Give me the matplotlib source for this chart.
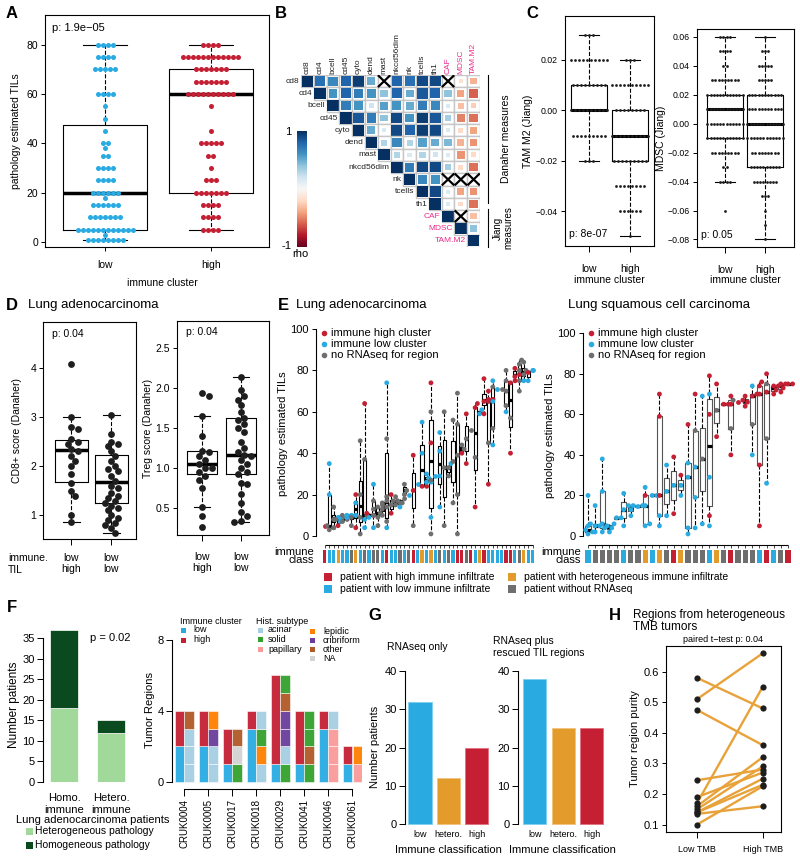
import numpy as np
import matplotlib
matplotlib.use('Agg')
import matplotlib.pyplot as plt
from matplotlib.patches import Rectangle
from matplotlib.lines import Line2D
from matplotlib.colors import Normalize
from matplotlib.colorbar import ColorbarBase

plt.rcParams['font.family'] = ['Liberation Sans', 'DejaVu Sans']
plt.rcParams['font.size'] = 7.5
plt.rcParams['axes.linewidth'] = 0.8
for a in ('xtick', 'ytick'):
    plt.rcParams[a + '.major.width'] = 0.7
    plt.rcParams[a + '.major.size'] = 3
    plt.rcParams[a + '.major.pad'] = 2
    plt.rcParams[a + '.labelsize'] = 7.5

W, H = 800, 860
BLUE = '#29abe2'
RED = '#c41f33'
ORANGE = '#e39b2b'
GRAY = '#6e6e6e'
MAGENTA = '#ec2c8c'
DOT = '#1e1e1e'
PT_COL = {'h': RED, 'l': BLUE, 'n': GRAY}
CLS_COL = {'r': RED, 'b': BLUE, 'o': ORANGE, 'g': GRAY}

# ---------------- A: TILs by immune cluster ----------------
a_low_vals = [80, 75, 70, 60, 55, 50, 45, 40, 38, 35, 30, 25, 20, 18, 15, 10, 5, 3, 1]
a_low_counts = [4, 4, 5, 4, 1, 1, 1, 2, 1, 2, 4, 4, 6, 1, 6, 7, 12, 1, 8]
a_high_vals = [80, 75, 70, 65, 60, 55, 45, 40, 35, 30, 25, 20, 15, 10, 5]
a_high_counts = [4, 12, 7, 7, 10, 1, 1, 5, 2, 1, 3, 7, 4, 4, 4]
a_boxes = [(5, 20, 47.5, 1, 80), (20, 60, 70, 5, 80)]   # q1, median, q3, low, high

# ---------------- B: correlation (upper triangle rows, nan = not significant) ----------------
b_labels = ['cd8', 'cd4', 'bcell', 'cd45', 'cyto', 'dend', 'mast', 'nkcd56dim', 'nk',
            'tcells', 'th1', 'CAF', 'MDSC', 'TAM.M2']
nan = np.nan
b_rho = [
    [1, .75, .65, .8, .95, .5, nan, .8, .75, .9, .9, nan, -.15, -.35],
    [1, .6, .8, .7, .6, .4, .8, .5, .85, .8, .4, -.4, -.6],
    [1, .7, .6, .2, .55, .6, .5, .7, .65, .15, -.3, -.25],
    [1, .85, .7, .4, .9, .6, .95, .85, .35, -.5, -.55],
    [1, .5, .15, .9, .8, .95, .9, .15, -.2, -.4],
    [1, .3, .65, .3, .55, .5, .45, -.35, -.45],
    [1, .3, .15, .3, .2, .15, -.45, -.2],
    [1, .7, .9, .9, .35, -.2, -.55],
    [1, .65, .6, nan, nan, nan],
    [1, .9, .15, -.4, -.45],
    [1, .15, -.2, -.55],
    [1, nan, -.3],
    [1, .4],
    [1],
]

# ---------------- C: Jiang scores ----------------
c_tam_vals = [0.03, 0.02, 0.01, 0.0, -0.01, -0.02, -0.03, -0.04, -0.05]
c_tam_low = [3, 10, 9, 10, 9, 3, 0, 0, 0]
c_tam_high = [0, 3, 10, 8, 10, 9, 8, 6, 1]
c_tam_boxes = [(0, 0, 0.01, -0.02, 0.03), (-0.02, -0.01, 0, -0.05, 0.02)]
c_mdsc_vals = [0.06, 0.05, 0.04, 0.03, 0.02, 0.01, 0.0, -0.01, -0.02, -0.03, -0.04,
               -0.05, -0.06, -0.07, -0.08]
c_mdsc_low = [4, 4, 2, 9, 12, 12, 12, 12, 9, 2, 4, 0, 1, 0, 0]
c_mdsc_high = [1, 3, 5, 5, 11, 11, 12, 12, 9, 10, 8, 3, 1, 1, 1]
c_mdsc_boxes = [(-0.01, 0.01, 0.02, -0.04, 0.06), (-0.03, 0.0, 0.02, -0.08, 0.06)]

# ---------------- D: Danaher scores ----------------
d_cd8_hi = [4.07, 3.0, 2.8, 2.75, 2.55, 2.5, 2.45, 2.35, 2.3, 2.2, 2.1, 2.0, 1.85, 1.65,
            1.5, 1.4, 1.0, 0.86]
d_cd8_lo = [3.03, 2.65, 2.5, 2.45, 2.4, 2.3, 2.2, 2.1, 2.0, 1.95, 1.9, 1.8, 1.7, 1.6, 1.55,
            1.45, 1.4, 1.35, 1.3, 1.25, 1.2, 1.15, 1.1, 1.0, 0.95, 0.9, 0.85, 0.8, 0.75, 0.65]
d_cd8_boxes = [(1.68, 2.33, 2.53, 0.86, 3.0), (1.25, 1.68, 2.23, 0.65, 3.03)]
d_treg_hi = [1.93, 1.9, 1.65, 1.4, 1.22, 1.2, 1.15, 1.1, 1.05, 1.0, 1.0, 0.95, 0.9, 0.85,
             0.75, 0.52, 0.4, 0.27]
d_treg_lo = [2.14, 1.97, 1.9, 1.85, 1.78, 1.7, 1.63, 1.6, 1.55, 1.5, 1.45, 1.32, 1.25, 1.2,
             1.17, 1.15, 1.1, 1.05, 1.0, 0.95, 0.93, 0.82, 0.8, 0.68, 0.57, 0.45, 0.4, 0.35, 0.33]
d_treg_boxes = [(0.93, 1.05, 1.22, 0.52, 1.65), (0.93, 1.17, 1.63, 0.33, 2.14)]

# ---------------- E: regions per patient (h = immune high, l = low, n = no RNAseq) ----------------
luad_vals = [[5], [3, 4, 5, 20, 35], [4, 8, 9, 14], [5, 7, 8, 9], [7, 8, 9], [9, 10, 10],
             [5, 9, 10, 10], [4, 10, 16, 20], [1, 9, 20, 46], [4, 8, 10, 37, 64], [9, 10, 11],
             [4, 10, 13, 17, 25], [5, 9, 11, 14, 15], [10, 13, 16, 17], [4, 7, 14, 19, 47, 74],
             [11, 15, 20], [15, 16, 17, 19], [14, 16, 17, 18], [20, 22, 25], [20], [5, 22, 39],
             [25], [24, 24, 40, 55], [26, 26, 28, 30], [1, 9, 27, 45, 60, 74], [29],
             [14, 29, 41, 50], [5, 33, 60], [29, 33, 35], [16, 36, 56], [1, 20, 39, 54, 69],
             [40, 42, 44], [35, 47, 59], [51], [14, 38, 62, 64], [59, 61], [59, 65, 66, 76],
             [25, 45, 65, 66, 70], [44, 52, 65, 72, 75], [71], [71], [60, 63, 70, 75, 80],
             [40, 57, 74, 75], [77, 78, 81], [70, 75, 80, 83, 85], [75, 78, 80, 84],
             [75, 79, 80], [80]]
luad_pts = ['h', 'nnnll', 'nnln', 'hlnn', 'nnl', 'lln', 'nnnl', 'hllh', 'nnnn', 'llnnh', 'lhh',
            'lnnnl', 'nnnnn', 'nnnn', 'lnnnnl', 'hnh', 'nnnn', 'lnnn', 'nnn', 'l', 'nhh', 'l',
            'hhll', 'llll', 'nlnhnh', 'l', 'llll', 'nnn', 'nnl', 'nnn', 'nnnnn', 'hnn', 'hnh',
            'n', 'hnhh', 'll', 'hhhh', 'hnhhh', 'lnlnl', 'l', 'n', 'lnnnn', 'hnhh', 'hhh',
            'nnnnn', 'lnnn', 'lhl', 'l']
luad_class = 'rbbobbgobgbggbrbbgbgrbobobgbgbrrgrborbbbbrrbgobb'

lusc_vals = [[1, 2, 3, 5, 20], [2, 5, 5, 6, 15], [2, 4, 6, 22, 38], [2, 4, 5, 6], [9, 9],
             [5, 13, 21], [10, 13, 15, 15], [14.5, 15], [5, 6, 15, 20, 24], [20, 20],
             [5, 10, 20, 59, 70], [10, 22, 35], [11, 25, 39], [20, 25, 30], [1, 4, 29, 36, 55],
             [4, 19, 34, 52, 70], [6, 38, 69], [5, 10, 29, 60, 70, 79], [49, 62, 75], [65, 65],
             [40, 53, 65, 67, 69], [66], [64, 66, 67, 69], [40, 55, 69, 70, 74],
             [5, 35, 70, 74, 76], [26, 48, 71, 75, 80], [70, 72, 74, 74], [71, 73, 75, 75],
             [75, 75]]
lusc_pts = ['lllll', 'lllll', 'lllll', 'llll', 'll', 'lll', 'llll', 'll', 'lllhl', 'll',
            'llhhh', 'lll', 'hlh', 'llh', 'llllh', 'lllnh', 'lnl', 'lhlhlh', 'hnh', 'hh',
            'hnhnh', 'h', 'hhhh', 'lnhhl', 'hhhhh', 'lnhnh', 'hhhh', 'hhhh', 'hh']
lusc_class = 'bggggbggobogrogggbogrgggbrbgr'

# ---------------- F ----------------
f_groups = ['Homo.\nimmune', 'Hetero.\nimmune']
f_hetero_path = [18, 12]
f_homo_path = [19, 3]
f_patients = ['CRUK0004', 'CRUK0005', 'CRUK0017', 'CRUK0018', 'CRUK0029', 'CRUK0041',
              'CRUK0046', 'CRUK0061']
f_low = [2, 2, 1, 3, 1, 1, 3, 1]
f_high = [2, 2, 2, 1, 5, 3, 1, 1]
f_hist = ['aaao', 'aacl', 'sno', 'alsa', 'saccos', 'soss', 'pppa', 'pl']   # bottom to top
HIST_COL = {'a': '#a6cee3', 's': '#33a02c', 'p': '#fb9a99', 'l': '#ff7f00',
            'c': '#6a3d9a', 'o': '#b15928', 'n': '#d3d3d3'}

# ---------------- G ----------------
g_classes = ['low', 'hetero.', 'high']
g_rnaseq = [32, 12, 20]
g_rescued = [38, 25, 25]

# ---------------- H ----------------
h_low = [0.58, 0.51, 0.475, 0.245, 0.19, 0.17, 0.16, 0.15, 0.14, 0.14, 0.135, 0.10]
h_high = [0.48, 0.66, 0.36, 0.28, 0.27, 0.55, 0.32, 0.29, 0.25, 0.23, 0.16, 0.225]


fig = plt.figure(figsize=(8, 8.6), dpi=100)


def px_axes(l, t, r, b):
    return fig.add_axes([l / W, 1 - b / H, (r - l) / W, (b - t) / H])


def ftext(x, y, s, **kw):
    return fig.text(x / W, 1 - y / H, s, **kw)


def fsquare(x, y, size, color):
    fig.add_artist(Rectangle((x / W, 1 - (y + size / 2) / H), size / W, size / H,
                             transform=fig.transFigure, fc=color, ec='none'))


def draw_boxes(ax, boxes, widths, capw, lw=0.8, medlw=2.5, caps=True):
    stats = [dict(q1=q1, med=m, q3=q3, whislo=lo, whishi=hi, fliers=[])
             for q1, m, q3, lo, hi in boxes]
    ax.bxp(stats, positions=range(1, len(stats) + 1), widths=widths, capwidths=capw,
           showfliers=False, showcaps=caps, manage_ticks=False,
           boxprops=dict(lw=lw, color='black'), whiskerprops=dict(lw=lw, ls='--'),
           capprops=dict(lw=lw), medianprops=dict(color='black', lw=medlw))


def unit_per_px(ax):
    p0, p1 = ax.transData.transform([(0, 0), (1, 0)])
    return 1.0 / (p1[0] - p0[0])


def row_swarm(ax, pos, vals, counts, step_px, **kw):
    step = step_px * unit_per_px(ax)
    xs, ys = [], []
    for v, n in zip(vals, counts):
        off = (np.arange(n) - (n - 1) / 2) * step
        xs.extend(pos + off)
        ys.extend([v] * n)
    ax.scatter(xs, ys, **kw)


def swarm_x(ax, pos, vals, diam):
    pts = ax.transData.transform(np.column_stack([np.full(len(vals), pos, float), vals]))
    placed, out = [], []
    for px, py in pts:
        k = 0
        chosen = None
        while chosen is None:
            cands = [0.0] if k == 0 else [k * diam * 0.5, -k * diam * 0.5]
            for dx in cands:
                if all((dx - qx) ** 2 + (py - qy) ** 2 >= (diam * 0.9) ** 2 for qx, qy in placed):
                    chosen = dx
                    break
            k += 1
        placed.append((chosen, py))
        out.append(px + chosen)
    back = ax.transData.inverted().transform(np.column_stack([out, pts[:, 1]]))
    return back[:, 0]


def minus_fmt(v):
    return ('%.2f' % v).replace('-', '\u2212')


# ======================= A =======================
ftext(12, 13, 'A', fontsize=12, fontweight='bold', ha='center', va='center')
axA = px_axes(45, 15, 269, 247)
axA.set_xlim(0.43, 2.55)
axA.set_ylim(-2, 92)
draw_boxes(axA, a_boxes, 0.8, 0.42)
row_swarm(axA, 1, a_low_vals, a_low_counts, 5.0, s=13, color=BLUE, zorder=3, lw=0)
row_swarm(axA, 2, a_high_vals, a_high_counts, 5.0, s=13, color=RED, zorder=3, lw=0)
axA.set_yticks([0, 20, 40, 60, 80])
axA.set_xticks([1, 2], ['low', 'high'])
axA.tick_params(axis='x', pad=6)
axA.set_ylabel('pathology estimated TILs', fontsize=7.5, labelpad=4)
axA.text(0.03, 0.965, 'p: 1.9e\u221205', transform=axA.transAxes, fontsize=8, va='top')
ftext(162, 283, 'immune cluster', fontsize=7.5, ha='center', va='center')

# ======================= B =======================
ftext(281, 13, 'B', fontsize=12, fontweight='bold', ha='center', va='center')
axB = px_axes(301, 75, 480, 247)
axB.set_xlim(-0.5, 13.5)
axB.set_ylim(13.5, -0.5)
axB.axis('off')
cmap = plt.get_cmap('RdBu')
norm = Normalize(-1, 1)
for i, row in enumerate(b_rho):
    for k, r in enumerate(row):
        j = i + k
        axB.add_patch(Rectangle((j - 0.5, i - 0.5), 1, 1, fc='white', ec='#c6c6c6', lw=1.0))
        if np.isnan(r):
            axB.plot([j - 0.42, j + 0.42], [i - 0.42, i + 0.42], color='black', lw=1.6)
            axB.plot([j - 0.42, j + 0.42], [i + 0.42, i - 0.42], color='black', lw=1.6)
        else:
            side = 0.9 * np.sqrt(abs(r))
            axB.add_patch(Rectangle((j - side / 2, i - side / 2), side, side,
                                    fc=cmap(norm(r)), ec='none'))
for i, lab in enumerate(b_labels):
    col = MAGENTA if i >= 11 else '#222222'
    axB.text(i - 0.62, i, lab, ha='right', va='center', fontsize=6, color=col, clip_on=False)
    axB.text(i, -0.62, lab, ha='center', va='bottom', rotation=90, fontsize=6, color=col,
             clip_on=False)
cax = px_axes(297, 131, 307, 247)
cb = ColorbarBase(cax, cmap=cmap, norm=norm)
cb.outline.set_visible(False)
cax.set_yticks([])
ftext(288, 132, '1', fontsize=8, ha='center', va='center')
ftext(286, 246, '-1', fontsize=8, ha='center', va='center')
ftext(300, 254, 'rho', fontsize=8, ha='center', va='center')
fig.add_artist(Line2D([488 / W, 488 / W], [1 - 75 / H, 1 - 203 / H], color='black', lw=0.8))
fig.add_artist(Line2D([488 / W, 488 / W], [1 - 209 / H, 1 - 247 / H], color='black', lw=0.8))
ftext(506, 139, 'Danaher measures', fontsize=7.5, rotation=90, ha='center', va='center')
ftext(503, 228, 'Jiang\nmeasures', fontsize=7, rotation=90, ha='center', va='center',
      linespacing=1.0)

# ======================= C =======================
ftext(532, 13, 'C', fontsize=12, fontweight='bold', ha='center', va='center')
axC1 = px_axes(565, 16, 654, 246)
axC1.set_xlim(0.415, 2.585)
axC1.set_ylim(-0.0538, 0.0374)
draw_boxes(axC1, c_tam_boxes, 0.88, 0.5, medlw=2.2)
row_swarm(axC1, 1, c_tam_vals, c_tam_low, 3.9, s=4, color=DOT, zorder=3, lw=0)
row_swarm(axC1, 2, c_tam_vals, c_tam_high, 3.9, s=4, color=DOT, zorder=3, lw=0)
yt = [-0.04, -0.02, 0.0, 0.02]
axC1.set_yticks(yt, [minus_fmt(v) for v in yt])
axC1.set_xticks([1, 2], ['low', 'high'])
axC1.tick_params(axis='y', labelsize=6.3)
axC1.tick_params(axis='x', length=4, pad=9, labelsize=7.5)
axC1.set_ylabel('TAM M2 (Jiang)', fontsize=7.5, labelpad=2)
axC1.text(0.05, 0.03, 'p: 8e-07', transform=axC1.transAxes, fontsize=7.5, va='bottom')
ftext(609, 280, 'immune cluster', fontsize=7.5, ha='center', va='center')

axC2 = px_axes(697, 29, 794, 247)
axC2.set_xlim(0.3, 2.725)
axC2.set_ylim(-0.0852, 0.0654)
draw_boxes(axC2, c_mdsc_boxes, 0.9, 0.5, medlw=2.2)
row_swarm(axC2, 1, c_mdsc_vals, c_mdsc_low, 3.2, s=4, color=DOT, zorder=3, lw=0)
row_swarm(axC2, 2, c_mdsc_vals, c_mdsc_high, 3.2, s=4, color=DOT, zorder=3, lw=0)
yt = [-0.08, -0.06, -0.04, -0.02, 0.0, 0.02, 0.04, 0.06]
axC2.set_yticks(yt, [minus_fmt(v) for v in yt])
axC2.set_xticks([1, 2], ['low', 'high'])
axC2.tick_params(axis='y', labelsize=6.3)
axC2.tick_params(axis='x', length=4, pad=9, labelsize=7.5)
axC2.set_ylabel('MDSC (Jiang)', fontsize=7.5, labelpad=1)
axC2.text(0.04, 0.03, 'p: 0.05', transform=axC2.transAxes, fontsize=7.5, va='bottom')
ftext(745, 280, 'immune cluster', fontsize=7.5, ha='center', va='center')

# ======================= D =======================
ftext(12, 305, 'D', fontsize=12, fontweight='bold', ha='center', va='center')
ftext(28, 305, 'Lung adenocarcinoma', fontsize=9.5, va='center')
axD1 = px_axes(43, 322, 136, 539)
axD1.set_xlim(0.29, 2.62)
axD1.set_ylim(0.52, 4.93)
draw_boxes(axD1, d_cd8_boxes, 0.82, 0.42)
for pos, vals in ((1, d_cd8_hi), (2, d_cd8_lo)):
    axD1.scatter(swarm_x(axD1, pos, vals, 6.5), vals, s=24, color=DOT, zorder=3, lw=0)
axD1.set_yticks([1, 2, 3, 4])
axD1.set_xticks([1, 2], ['low\nhigh', 'low\nlow'])
axD1.tick_params(axis='x', length=4, pad=6)
axD1.set_ylabel('CD8+ score (Danaher)', fontsize=7.5, labelpad=6)
axD1.text(0.1, 0.97, 'p: 0.04', transform=axD1.transAxes, fontsize=7.5, va='top')
ftext(8, 553, 'immune.\nTIL', fontsize=7.5, va='top')

axD2 = px_axes(177, 321, 269, 535)
axD2.set_xlim(0.35, 2.73)
axD2.set_ylim(0.17, 2.83)
draw_boxes(axD2, d_treg_boxes, 0.77, 0.42)
for pos, vals in ((1, d_treg_hi), (2, d_treg_lo)):
    axD2.scatter(swarm_x(axD2, pos, vals, 6.5), vals, s=24, color=DOT, zorder=3, lw=0)
axD2.set_yticks([0.5, 1.0, 1.5, 2.0, 2.5])
axD2.set_xticks([1, 2], ['low\nhigh', 'low\nlow'])
axD2.tick_params(axis='x', length=4, pad=8)
axD2.set_ylabel('Treg score (Danaher)', fontsize=7.5, labelpad=2)
axD2.text(0.1, 0.97, 'p: 0.04', transform=axD2.transAxes, fontsize=7.5, va='top')


# ======================= E =======================
def tils_panel(l, r, t, b, ylim, xlim, vals, pts, classes, edge):
    ax = px_axes(l, t, r, b)
    ax.set_xlim(xlim)
    ax.set_ylim(ylim)
    for s in ('top', 'right', 'bottom'):
        ax.spines[s].set_visible(False)
    ax.spines['left'].set_bounds(0, 100)
    ax.set_xticks([])
    ax.set_yticks([0, 20, 40, 60, 80, 100])
    ax.tick_params(axis='y', labelsize=8)
    multi = [i for i, v in enumerate(vals) if len(v) > 1]
    ax.boxplot([vals[i] for i in multi], positions=multi, widths=0.72, whis=(0, 100),
               showfliers=False, showcaps=False, manage_ticks=False,
               boxprops=dict(lw=0.8, color=edge), whiskerprops=dict(lw=0.8, ls='--'),
               medianprops=dict(color='black', lw=2.3))
    for i, (v, c) in enumerate(zip(vals, pts)):
        xs = swarm_x(ax, i, v, 4.6)
        ax.scatter(xs, v, s=12, c=[PT_COL[k] for k in c], zorder=3, lw=0, clip_on=False)
    ax.set_ylabel('pathology estimated TILs', fontsize=8, labelpad=2)
    # immune class strip
    sx = px_axes(l, 543, r, 565)
    sx.set_xlim(xlim)
    sx.set_ylim(1, 0)
    n = len(classes)
    x = np.arange(n)
    sx.bar(x, 0.6, bottom=0.32, width=0.72, color=[CLS_COL[c] for c in classes])
    sx.hlines(0.09, 0, n - 1, color='black', lw=0.8)
    sx.vlines(x, 0.09, 0.23, color='black', lw=0.5)
    sx.axis('off')
    ftext(l - 2, 556, 'immune\nclass', fontsize=8, ha='right', va='center', linespacing=0.75)
    for k, (lab, c) in enumerate((('immune high cluster', RED), ('immune low cluster', BLUE),
                                  ('no RNAseq for region', GRAY))):
        fig.add_artist(Line2D([(l + 8) / W], [1 - (333 + 11 * k) / H], marker='o', ms=3,
                              color=c, lw=0, transform=fig.transFigure))
        ftext(l + 15, 333 + 11 * k, lab, fontsize=8, va='center')
    return ax


ftext(283, 305, 'E', fontsize=12, fontweight='bold', ha='center', va='center')
ftext(296, 305, 'Lung adenocarcinoma', fontsize=9.5, va='center')
tils_panel(316, 537, 327, 540, (-1.93, 100.97), (-2.0, 48.0), luad_vals, luad_pts,
           luad_class, 'black')
ftext(568, 305, 'Lung squamous cell carcinoma', fontsize=9.5, va='center')
tils_panel(583, 795, 331, 540, (-1.97, 101.1), (-0.7, 28.98), lusc_vals, lusc_pts,
           lusc_class, '#555555')

leg = [(328, 577, RED, 'patient with high immune infiltrate'),
       (328, 589, BLUE, 'patient with low immune infiltrate'),
       (512, 577, ORANGE, 'patient with heterogeneous immune infiltrate'),
       (512, 589, GRAY, 'patient without RNAseq')]
for x, y, c, lab in leg:
    fsquare(x - 4, y, 8, c)
    ftext(x + 12, y, lab, fontsize=7.5, va='center')

# ======================= F =======================
ftext(12, 607, 'F', fontsize=12, fontweight='bold', ha='center', va='center')
axF1 = px_axes(43, 628, 135, 782)
axF1.set_xlim(-0.447, 1.51)
axF1.set_ylim(0, 37.5)
xf = np.arange(len(f_groups))
axF1.bar(xf, f_hetero_path, width=0.59, color='#a1d99b', ec='white', lw=0.5)
axF1.bar(xf, f_homo_path, bottom=f_hetero_path, width=0.59, color='#0b4a1f', ec='white', lw=0.5)
for s in ('top', 'right', 'bottom'):
    axF1.spines[s].set_visible(False)
axF1.spines['left'].set_bounds(0, 35)
axF1.set_yticks(range(0, 36, 5))
axF1.set_xticks(xf, f_groups)
axF1.tick_params(axis='x', length=0, pad=8, labelsize=8)
axF1.tick_params(axis='y', labelsize=8, length=4)
axF1.set_ylabel('Number patients', fontsize=8.5, labelpad=2)
ftext(110, 638, 'p = 0.02', fontsize=8, ha='center', va='center')
ftext(16, 820, 'Lung adenocarcinoma patients', fontsize=8, va='center')
fsquare(26, 831, 7, '#a1d99b')
ftext(35, 831, 'Heterogeneous pathology', fontsize=7.5, va='center')
fsquare(26, 845, 7, '#0b4a1f')
ftext(35, 845, 'Homogeneous pathology', fontsize=7.5, va='center')

axF2 = px_axes(172, 636, 362, 784)
axF2.set_xlim(-0.51, 7.4)
axF2.set_ylim(-0.13, 8.23)
xp = np.arange(len(f_patients))
axF2.bar(xp - 0.2, f_low, width=0.39, color=BLUE, ec='white', lw=0.4, alpha=0.95)
axF2.bar(xp - 0.2, f_high, bottom=f_low, width=0.39, color=RED, ec='white', lw=0.4, alpha=0.95)
for i, seq in enumerate(f_hist):
    axF2.bar([i + 0.2] * len(seq), [1] * len(seq), bottom=np.arange(len(seq)), width=0.39,
             color=[HIST_COL[c] for c in seq], ec='white', lw=0.4, alpha=0.95)
for s in ('top', 'right'):
    axF2.spines[s].set_visible(False)
axF2.spines['left'].set_bounds(0, 8)
axF2.spines['bottom'].set_bounds(0, 7)
axF2.spines['bottom'].set_position(('outward', 3.6))
axF2.set_yticks([0, 4, 8])
axF2.set_xticks(xp, f_patients, rotation=90)
axF2.tick_params(axis='x', length=5, labelsize=7)
axF2.tick_params(axis='y', length=4, labelsize=8)
axF2.set_ylabel('Tumor Regions', fontsize=8, labelpad=2)
ftext(180, 622, 'Immune cluster', fontsize=6.5, va='center')
for k, (lab, c) in enumerate((('low', BLUE), ('high', RED))):
    fsquare(181, 630 + 10 * k, 5, c)
    ftext(193, 630 + 10 * k, lab, fontsize=6.5, va='center')
ftext(256, 622, 'Hist. subtype', fontsize=6.5, va='center')
hist_leg = [('acinar', 'a'), ('solid', 's'), ('papillary', 'p')]
for k, (lab, c) in enumerate(hist_leg):
    fsquare(258, 630 + 9.7 * k, 5, HIST_COL[c])
    ftext(268, 630 + 9.7 * k, lab, fontsize=6.5, va='center')
hist_leg2 = [('lepidic', 'l'), ('cribriform', 'c'), ('other', 'o'), ('NA', 'n')]
for k, (lab, c) in enumerate(hist_leg2):
    fsquare(310, 631 + 9.3 * k, 5, HIST_COL[c])
    ftext(323, 631 + 9.3 * k, lab, fontsize=6.5, va='center')

# ======================= G =======================
ftext(375, 615, 'G', fontsize=12, fontweight='bold', ha='center', va='center')


def class_bars(l, r, vals, xlim):
    ax = px_axes(l, 668, r, 826)
    ax.set_xlim(xlim)
    ax.set_ylim(-0.44, 40.78)
    xg = np.arange(len(g_classes))
    ax.bar(xg, vals, width=0.82, color=[BLUE, ORANGE, RED], ec=['#7fd0f0', '#f0c27a', '#e07080'],
           lw=0.6)
    for s in ('top', 'right', 'bottom'):
        ax.spines[s].set_visible(False)
    ax.spines['left'].set_bounds(0, 40)
    ax.set_yticks([0, 10, 20, 30, 40])
    ax.set_xticks(xg, g_classes)
    ax.tick_params(axis='x', length=0, labelsize=6.5, pad=3)
    ax.tick_params(axis='y', length=4, labelsize=8)
    ax.set_xlabel('Immune classification', fontsize=8, labelpad=4)
    return ax


axG1 = class_bars(405, 492, g_rnaseq, (-0.53, 2.54))
axG1.set_ylabel('Number patients', fontsize=8, labelpad=3)
ftext(387, 647, 'RNAseq only', fontsize=7.5, va='center')
class_bars(518, 606, g_rescued, (-0.59, 2.5))
ftext(493, 647, 'RNAseq plus\nrescued TIL regions', fontsize=7.5, va='center')

# ======================= H =======================
ftext(615, 615, 'H', fontsize=12, fontweight='bold', ha='center', va='center')
ftext(633, 621, 'Regions from heterogeneous\nTMB tumors', fontsize=8.5, va='center',
      linespacing=1.0)
axH = px_axes(666, 646, 781, 832)
axH.set_xlim(-0.472, 1.28)
axH.set_ylim(0.0758, 0.684)
for lo, hi in zip(h_low, h_high):
    axH.plot([0, 1], [lo, hi], color='#e8a23a', lw=1.7, zorder=1)
axH.scatter(np.zeros(len(h_low)), h_low, s=20, color=DOT, zorder=3, lw=0)
axH.scatter(np.ones(len(h_high)), h_high, s=20, color=DOT, zorder=3, lw=0)
yt = [0.1, 0.2, 0.3, 0.4, 0.5, 0.6]
axH.set_yticks(yt, ['%.1f' % v for v in yt])
axH.set_xticks([0, 1], ['Low TMB', 'High TMB'])
axH.tick_params(axis='x', labelsize=6.5, length=4, pad=5)
axH.tick_params(axis='y', labelsize=8)
axH.set_ylabel('Tumor region purity', fontsize=8, labelpad=3)
ftext(723, 639, 'paired t\u2212test p: 0.04', fontsize=6.5, ha='center', va='center')

fig.savefig('out.png', dpi=100)
